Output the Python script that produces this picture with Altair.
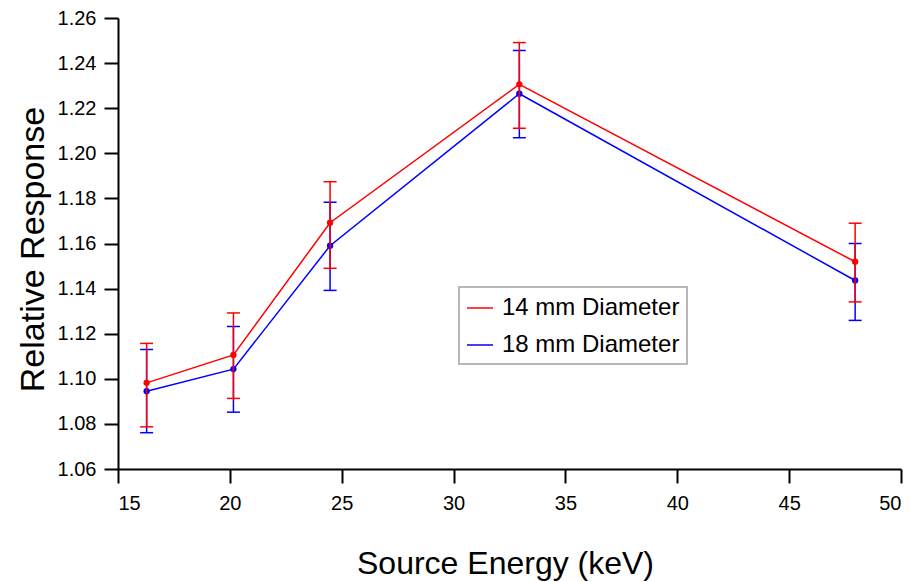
import altair as alt
import pandas as pd

energy = [16.28, 20.16, 24.48, 32.94, 47.95]

resp_14 = [1.0982, 1.1106, 1.1692, 1.2306, 1.1519]
low_14 = [1.0787, 1.0913, 1.1490, 1.2111, 1.1341]
high_14 = [1.1157, 1.1292, 1.1874, 1.2491, 1.1690]

resp_18 = [1.0945, 1.1043, 1.1590, 1.2264, 1.1436]
low_18 = [1.0761, 1.0852, 1.1392, 1.2069, 1.1259]
high_18 = [1.1130, 1.1232, 1.1783, 1.2456, 1.1600]

series = ["14 mm Diameter", "18 mm Diameter"]
colors = ["#FF0000", "#0000FF"]
x_ticks = [15, 20, 25, 30, 35, 40, 45, 50]
y_ticks = [1.06, 1.08, 1.10, 1.12, 1.14, 1.16, 1.18, 1.20, 1.22, 1.24, 1.26]

rows = []
for name, r, lo, hi in [(series[0], resp_14, low_14, high_14),
                        (series[1], resp_18, low_18, high_18)]:
    for e, v, l, h in zip(energy, r, lo, hi):
        rows.append({"energy": e, "resp": v, "low": l, "high": h, "series": name})
df = pd.DataFrame(rows)

FONT = "Liberation Sans"

x_axis = alt.Axis(values=x_ticks, title="Source Energy (keV)", titleX=387, titleY=104,
                  titleBaseline="alphabetic", titleAlign="center", titleFontSize=32,
                  labelPadding=10)
y_axis = alt.Axis(values=y_ticks, format=".2f", title="Relative Response", titleX=-75,
                  titleY=231, titleBaseline="alphabetic", titleAlign="center", titleAngle=270,
                  titleFontSize=34, labelPadding=8)
x_scale = alt.Scale(domain=[15, 50], nice=False, zero=False)
y_scale = alt.Scale(domain=[1.06, 1.26], nice=False, zero=False)

X = alt.X("energy:Q", scale=x_scale, axis=x_axis)


def color(legend=None):
    if legend is None:
        return alt.Color("series:N", scale=alt.Scale(domain=series, range=colors), legend=None)
    return alt.Color("series:N", scale=alt.Scale(domain=series, range=colors), legend=legend)


layers = []
for i, s in enumerate([series[1], series[0]]):
    base = alt.Chart(df).transform_filter(alt.datum.series == s)
    leg = alt.Legend(title=None, symbolType="stroke") if i == 0 else None
    line = base.mark_line(strokeWidth=1.5).encode(
        x=X, y=alt.Y("resp:Q", scale=y_scale, axis=y_axis), color=color(leg))
    rule = base.mark_rule(strokeWidth=1.5).encode(
        x=X, y=alt.Y("low:Q", scale=y_scale, axis=y_axis), y2="high:Q", color=color())
    tlo = base.mark_tick(orient="horizontal", size=13, thickness=1.5, opacity=1).encode(
        x=X, y=alt.Y("low:Q", scale=y_scale, axis=y_axis), color=color())
    thi = base.mark_tick(orient="horizontal", size=13, thickness=1.5, opacity=1).encode(
        x=X, y=alt.Y("high:Q", scale=y_scale, axis=y_axis), color=color())
    pts = base.mark_circle(size=40, opacity=1).encode(
        x=X, y=alt.Y("resp:Q", scale=y_scale, axis=y_axis), color=color())
    layers += [line, rule, tlo, thi, pts]

chart = alt.layer(*layers).properties(
    width=783, height=451,
    autosize=alt.AutoSizeParams(type="none"),
    padding={"left": 118, "top": 18, "right": 14, "bottom": 113},
    background="white",
).configure_view(stroke=None).configure_axis(
    domainColor="black", domainWidth=2, tickColor="black", tickWidth=2, tickSize=14,
    grid=False, labelFont=FONT, labelFontSize=20, labelColor="black",
    titleFont=FONT, titleFontWeight="normal", titleColor="black",
).configure_legend(
    orient="none", legendX=341, legendY=269, strokeColor="#b8b8b8", strokeWidth=2,
    padding=7, symbolType="stroke", symbolSize=676, symbolStrokeWidth=1.5,
    labelFont=FONT, labelFontSize=24, labelColor="black", labelOffset=8, rowPadding=11,
    labelLimit=400, fillColor="white",
)

chart.save("out.html", embed_options={"renderer": "svg", "actions": False})
